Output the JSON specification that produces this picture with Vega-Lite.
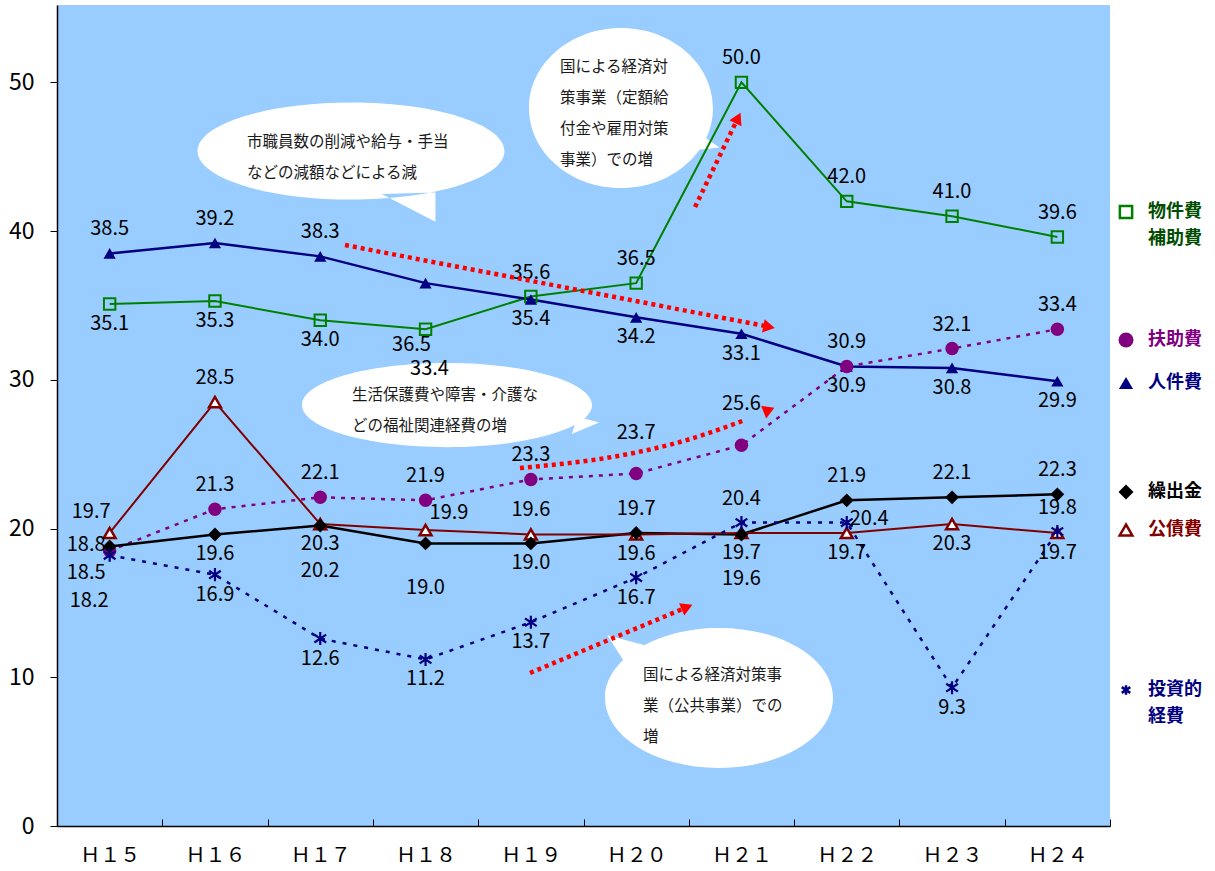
{
  "$schema": "https://vega.github.io/schema/vega-lite/v6.json",
  "autosize": {"type": "none"},
  "width": 1053,
  "height": 821,
  "padding": {"left": 57, "top": 5, "right": 105, "bottom": 45},
  "background": "white",
  "view": {"fill": "#99CCFF", "stroke": null},
  "config": {
    "text": {"font": "Noto Sans CJK JP", "fontSize": 20, "color": "black", "baseline": "middle", "align": "center"},
    "legend": {"title": null, "padding": 0, "labelFont": "Noto Sans CJK JP", "labelFontSize": 18, "labelFontWeight": "bold", "labelOffset": 13, "labelLimit": 0, "orient": "none"},
    "style": {"guide-label": {"lineHeight": 27}}
  },
  "datasets": {
    "cost": [
      {"series": "物件費・補助費", "i": 0, "v": 35.1, "pos": "b"},
      {"series": "物件費・補助費", "i": 1, "v": 35.3, "pos": "b"},
      {"series": "物件費・補助費", "i": 2, "v": 34.0, "pos": "b"},
      {"series": "物件費・補助費", "i": 3, "v": 33.4, "pos": "b2"},
      {"series": "物件費・補助費", "i": 4, "v": 35.6, "pos": "t"},
      {"series": "物件費・補助費", "i": 5, "v": 36.5, "pos": "t"},
      {"series": "物件費・補助費", "i": 6, "v": 50.0, "pos": "t"},
      {"series": "物件費・補助費", "i": 7, "v": 42.0, "pos": "t"},
      {"series": "物件費・補助費", "i": 8, "v": 41.0, "pos": "t"},
      {"series": "物件費・補助費", "i": 9, "v": 39.6, "pos": "t"},
      {"series": "人件費", "i": 0, "v": 38.5, "pos": "t"},
      {"series": "人件費", "i": 1, "v": 39.2, "pos": "t"},
      {"series": "人件費", "i": 2, "v": 38.3, "pos": "t"},
      {"series": "人件費", "i": 3, "v": 36.5, "pos": "b3"},
      {"series": "人件費", "i": 4, "v": 35.4, "pos": "b"},
      {"series": "人件費", "i": 5, "v": 34.2, "pos": "b"},
      {"series": "人件費", "i": 6, "v": 33.1, "pos": "b"},
      {"series": "人件費", "i": 7, "v": 30.9, "pos": "b"},
      {"series": "人件費", "i": 8, "v": 30.8, "pos": "b"},
      {"series": "人件費", "i": 9, "v": 29.9, "pos": "b"},
      {"series": "扶助費", "i": 0, "v": 18.5, "pos": "bl"},
      {"series": "扶助費", "i": 1, "v": 21.3, "pos": "t"},
      {"series": "扶助費", "i": 2, "v": 22.1, "pos": "t"},
      {"series": "扶助費", "i": 3, "v": 21.9, "pos": "t"},
      {"series": "扶助費", "i": 4, "v": 23.3, "pos": "t"},
      {"series": "扶助費", "i": 5, "v": 23.7, "pos": "tt"},
      {"series": "扶助費", "i": 6, "v": 25.6, "pos": "tt"},
      {"series": "扶助費", "i": 7, "v": 30.9, "pos": "t"},
      {"series": "扶助費", "i": 8, "v": 32.1, "pos": "t"},
      {"series": "扶助費", "i": 9, "v": 33.4, "pos": "t"},
      {"series": "繰出金", "i": 0, "v": 18.8, "pos": "l"},
      {"series": "繰出金", "i": 1, "v": 19.6, "pos": "b"},
      {"series": "繰出金", "i": 2, "v": 20.2, "pos": "bb"},
      {"series": "繰出金", "i": 3, "v": 19.0, "pos": "bb"},
      {"series": "繰出金", "i": 4, "v": 19.0, "pos": "b"},
      {"series": "繰出金", "i": 5, "v": 19.7, "pos": "t"},
      {"series": "繰出金", "i": 6, "v": 19.6, "pos": "bb"},
      {"series": "繰出金", "i": 7, "v": 21.9, "pos": "t"},
      {"series": "繰出金", "i": 8, "v": 22.1, "pos": "t"},
      {"series": "繰出金", "i": 9, "v": 22.3, "pos": "t"},
      {"series": "公債費", "i": 0, "v": 19.7, "pos": "tl"},
      {"series": "公債費", "i": 1, "v": 28.5, "pos": "t"},
      {"series": "公債費", "i": 2, "v": 20.3, "pos": "b"},
      {"series": "公債費", "i": 3, "v": 19.9, "pos": "tr"},
      {"series": "公債費", "i": 4, "v": 19.6, "pos": "t"},
      {"series": "公債費", "i": 5, "v": 19.6, "pos": "b"},
      {"series": "公債費", "i": 6, "v": 19.7, "pos": "b"},
      {"series": "公債費", "i": 7, "v": 19.7, "pos": "b"},
      {"series": "公債費", "i": 8, "v": 20.3, "pos": "b"},
      {"series": "公債費", "i": 9, "v": 19.7, "pos": "b"},
      {"series": "投資的経費", "i": 0, "v": 18.2, "pos": "bbl"},
      {"series": "投資的経費", "i": 1, "v": 16.9, "pos": "b"},
      {"series": "投資的経費", "i": 2, "v": 12.6, "pos": "b"},
      {"series": "投資的経費", "i": 3, "v": 11.2, "pos": "b"},
      {"series": "投資的経費", "i": 4, "v": 13.7, "pos": "b"},
      {"series": "投資的経費", "i": 5, "v": 16.7, "pos": "b"},
      {"series": "投資的経費", "i": 6, "v": 20.4, "pos": "t"},
      {"series": "投資的経費", "i": 7, "v": 20.4, "pos": "r"},
      {"series": "投資的経費", "i": 8, "v": 9.3, "pos": "b"},
      {"series": "投資的経費", "i": 9, "v": 19.8, "pos": "t"}
    ],
    "bubbles": [
      {"note": "staff", "i": 2.292, "v": 45.38},
      {"note": "stimulus", "i": 4.856, "v": 48.28},
      {"note": "welfare", "i": 3.204, "v": 28.3},
      {"note": "public", "i": 5.787, "v": 8.61}
    ],
    "notes": [
      {"note": "staff", "i": 1.304, "v": 45.99, "txt": ["市職員数の削減や給与・手当", "などの減額などによる減"]},
      {"note": "stimulus", "i": 4.277, "v": 51.03, "txt": ["国による経済対", "策事業（定額給", "付金や雇用対策", "事業）での増"]},
      {"note": "welfare", "i": 2.301, "v": 28.98, "txt": ["生活保護費や障害・介護な", "どの福祉関連経費の増"]},
      {"note": "public", "i": 5.065, "v": 10.15, "txt": ["国による経済対策事", "業（公共事業）での", "増"]}
    ],
    "arrows": [
      {"arrow": "A", "k": 0, "i": 2.235, "v": 39.06},
      {"arrow": "A", "k": 1, "i": 6.224, "v": 33.62},
      {"arrow": "B", "k": 0, "i": 5.559, "v": 41.62},
      {"arrow": "B", "k": 1, "i": 5.948, "v": 47.33},
      {"arrow": "C", "k": 0, "i": 3.897, "v": 24.07},
      {"arrow": "C", "k": 1, "i": 4.657, "v": 24.68},
      {"arrow": "C", "k": 2, "i": 5.416, "v": 25.82},
      {"arrow": "C", "k": 3, "i": 6.034, "v": 27.3},
      {"arrow": "D", "k": 0, "i": 3.992, "v": 10.29},
      {"arrow": "D", "k": 1, "i": 5.464, "v": 14.66}
    ],
    "heads": [
      {"arrow": "A", "i": 6.262, "v": 33.55},
      {"arrow": "B", "i": 5.967, "v": 47.6},
      {"arrow": "C", "i": 6.262, "v": 27.97},
      {"arrow": "D", "i": 5.483, "v": 14.72}
    ]
  },
  "data": {"name": "cost"},
  "encoding": {
    "x": {
      "field": "i", "type": "quantitative",
      "scale": {"domain": [-0.5, 9.5], "nice": false, "zero": false},
      "axis": {
        "title": null, "grid": false,
        "values": [0, 0.5, 1, 1.5, 2, 2.5, 3, 3.5, 4, 4.5, 5, 5.5, 6, 6.5, 7, 7.5, 8, 8.5, 9, 9.5],
        "labelExpr": "datum.value % 1 == 0 ? ['Ｈ１５','Ｈ１６','Ｈ１７','Ｈ１８','Ｈ１９','Ｈ２０','Ｈ２１','Ｈ２２','Ｈ２３','Ｈ２４'][datum.value] : ''",
        "tickSize": -7, "tickColor": "black", "tickWidth": 1,
        "tickOpacity": {"condition": {"test": "datum.value % 1 == 0", "value": 0}, "value": 1},
        "domainColor": "black", "domainWidth": 1.5,
        "labelFont": "Noto Sans CJK JP", "labelFontSize": 20, "labelColor": "black",
        "labelPadding": 26, "labelOverlap": false, "labelFlush": false, "labelBound": false
      }
    },
    "y": {
      "field": "v", "type": "quantitative",
      "scale": {"domain": [0, 55.2], "nice": false},
      "axis": {
        "title": null, "grid": false, "values": [0, 10, 20, 30, 40, 50],
        "tickSize": 7, "tickColor": "black", "domainColor": "black", "domainWidth": 1.5,
        "labelFont": "Noto Sans CJK JP", "labelFontSize": 23, "labelColor": "black", "labelPadding": 16
      }
    }
  },
  "layer": [
    {"data": {"name": "bubbles"}, "transform": [{"filter": "datum.note == 'staff'"}],
     "mark": {"type": "point", "shape": "M-1,0A1,0.316,0,1,1,1,0A1,0.316,0,1,1,-1,0Z M0.2,0.28L0.55,0.46L0.55,0.27Z", "size": 94249, "filled": true, "fill": "white", "strokeWidth": 0, "opacity": 1}},
    {"data": {"name": "bubbles"}, "transform": [{"filter": "datum.note == 'stimulus'"}],
     "mark": {"type": "point", "shape": "M-1,0A1,0.87,0,1,1,1,0A1,0.87,0,1,1,-1,0Z M0.88,0.3L1.07,0.43L0.8,0.46Z", "size": 33856, "filled": true, "fill": "white", "strokeWidth": 0, "opacity": 1}},
    {"data": {"name": "bubbles"}, "transform": [{"filter": "datum.note == 'welfare'"}],
     "mark": {"type": "point", "shape": "M-1,0A1,0.29,0,1,1,1,0A1,0.29,0,1,1,-1,0Z M0.9,0.08L1.05,0.12L0.86,0.2Z", "size": 84100, "filled": true, "fill": "white", "strokeWidth": 0, "opacity": 1}},
    {"data": {"name": "bubbles"}, "transform": [{"filter": "datum.note == 'public'"}],
     "mark": {"type": "point", "shape": "M-1,0A1,0.614,0,1,1,1,0A1,0.614,0,1,1,-1,0Z M-0.82,-0.3L-0.98,-0.55L-0.6,-0.45Z", "size": 51984, "filled": true, "fill": "white", "strokeWidth": 0, "opacity": 1}},
    {"data": {"name": "notes"},
     "mark": {"type": "text", "align": "left", "baseline": "middle", "font": "Noto Sans CJK JP", "fontSize": 15.5, "lineHeight": 31, "color": "#1a1a1a"},
     "encoding": {"text": {"field": "txt"}}},

    {"transform": [{"filter": "datum.series == '物件費・補助費'"}], "mark": {"type": "line", "color": "#008000", "strokeWidth": 2}},
    {"transform": [{"filter": "datum.series == '人件費'"}], "mark": {"type": "line", "color": "#000080", "strokeWidth": 2.5}},
    {"transform": [{"filter": "datum.series == '扶助費'"}], "mark": {"type": "line", "color": "#800080", "strokeWidth": 2.5, "strokeDash": [4, 6]}},
    {"transform": [{"filter": "datum.series == '繰出金'"}], "mark": {"type": "line", "color": "#000000", "strokeWidth": 2.5}},
    {"transform": [{"filter": "datum.series == '公債費'"}], "mark": {"type": "line", "color": "#800000", "strokeWidth": 2}},
    {"transform": [{"filter": "datum.series == '投資的経費'"}], "mark": {"type": "line", "color": "#000080", "strokeWidth": 2.5, "strokeDash": [4, 7]}},

    {"transform": [{"filter": "datum.series == '物件費・補助費'"}],
     "mark": {"type": "point", "shape": "square", "filled": false, "size": 130, "strokeWidth": 2, "opacity": 1},
     "encoding": {"color": {"field": "series", "type": "nominal", "scale": {"domain": ["物件費・補助費"], "range": ["#008000"]},
       "legend": {"legendX": 1060, "legendY": 198, "symbolType": "square", "symbolSize": 150, "symbolStrokeWidth": 2.5, "symbolStrokeColor": "#005000", "labelColor": "#004d00", "labelExpr": "split(datum.label, '・')"}}}},
    {"transform": [{"filter": "datum.series == '人件費'"}],
     "mark": {"type": "point", "shape": "triangle-up", "filled": true, "size": 150, "opacity": 1},
     "encoding": {"color": {"field": "series", "type": "nominal", "scale": {"domain": ["人件費"], "range": ["#000080"]},
       "legend": {"legendX": 1060, "legendY": 369, "symbolType": "triangle-up", "symbolSize": 200, "labelColor": "#000080"}}}},
    {"transform": [{"filter": "datum.series == '扶助費'"}],
     "mark": {"type": "point", "shape": "circle", "filled": true, "size": 180, "opacity": 1},
     "encoding": {"color": {"field": "series", "type": "nominal", "scale": {"domain": ["扶助費"], "range": ["#800080"]},
       "legend": {"legendX": 1060, "legendY": 326, "symbolType": "circle", "symbolSize": 225, "labelColor": "#800080"}}}},
    {"transform": [{"filter": "datum.series == '公債費'"}],
     "mark": {"type": "point", "shape": "triangle-up", "filled": false, "fill": "white", "size": 140, "strokeWidth": 2.5, "opacity": 1},
     "encoding": {"color": {"field": "series", "type": "nominal", "scale": {"domain": ["公債費"], "range": ["#800000"]},
       "legend": {"legendX": 1060, "legendY": 516, "symbolType": "triangle-up", "symbolSize": 160, "symbolStrokeWidth": 2.5, "symbolFillColor": "white", "labelColor": "#800000"}}}},
    {"transform": [{"filter": "datum.series == '繰出金'"}],
     "mark": {"type": "point", "shape": "diamond", "filled": true, "size": 190, "opacity": 1},
     "encoding": {"color": {"field": "series", "type": "nominal", "scale": {"domain": ["繰出金"], "range": ["#000000"]},
       "legend": {"legendX": 1060, "legendY": 478, "symbolType": "diamond", "symbolSize": 225, "labelColor": "#000000"}}}},
    {"transform": [{"filter": "datum.series == '投資的経費'"}],
     "mark": {"type": "point", "shape": "M0,-1V1M-0.9,-0.6L0.9,0.6M-0.9,0.6L0.9,-0.6", "filled": false, "size": 170, "strokeWidth": 2.2, "opacity": 1},
     "encoding": {"color": {"field": "series", "type": "nominal", "scale": {"domain": ["投資的経費"], "range": ["#000080"]},
       "legend": {"legendX": 1060, "legendY": 676, "symbolType": "M0,-1V1M-0.9,-0.6L0.9,0.6M-0.9,0.6L0.9,-0.6", "symbolSize": 90, "symbolStrokeWidth": 2.5, "labelColor": "#000080", "labelExpr": "['投資的', '経費']"}}}},

    {"transform": [{"filter": "datum.pos == 't'"}], "mark": {"type": "text", "dy": -24}, "encoding": {"text": {"field": "v", "type": "quantitative", "format": ".1f"}}},
    {"transform": [{"filter": "datum.pos == 'tt'"}], "mark": {"type": "text", "dy": -41}, "encoding": {"text": {"field": "v", "type": "quantitative", "format": ".1f"}}},
    {"transform": [{"filter": "datum.pos == 'b'"}], "mark": {"type": "text", "dy": 20}, "encoding": {"text": {"field": "v", "type": "quantitative", "format": ".1f"}}},
    {"transform": [{"filter": "datum.pos == 'b2'"}], "mark": {"type": "text", "dy": 40, "dx": 4}, "encoding": {"text": {"field": "v", "type": "quantitative", "format": ".1f"}}},
    {"transform": [{"filter": "datum.pos == 'bb'"}], "mark": {"type": "text", "dy": 45}, "encoding": {"text": {"field": "v", "type": "quantitative", "format": ".1f"}}},
    {"transform": [{"filter": "datum.pos == 'b3'"}], "mark": {"type": "text", "dy": 62, "dx": -14}, "encoding": {"text": {"field": "v", "type": "quantitative", "format": ".1f"}}},
    {"transform": [{"filter": "datum.pos == 'l'"}], "mark": {"type": "text", "align": "right", "dx": -4, "dy": -1}, "encoding": {"text": {"field": "v", "type": "quantitative", "format": ".1f"}}},
    {"transform": [{"filter": "datum.pos == 'bl'"}], "mark": {"type": "text", "align": "right", "dx": -4, "dy": 22}, "encoding": {"text": {"field": "v", "type": "quantitative", "format": ".1f"}}},
    {"transform": [{"filter": "datum.pos == 'tl'"}], "mark": {"type": "text", "align": "right", "dx": 1, "dy": -21}, "encoding": {"text": {"field": "v", "type": "quantitative", "format": ".1f"}}},
    {"transform": [{"filter": "datum.pos == 'bbl'"}], "mark": {"type": "text", "align": "right", "dx": -1, "dy": 46}, "encoding": {"text": {"field": "v", "type": "quantitative", "format": ".1f"}}},
    {"transform": [{"filter": "datum.pos == 'r'"}], "mark": {"type": "text", "align": "left", "dx": 3, "dy": -4}, "encoding": {"text": {"field": "v", "type": "quantitative", "format": ".1f"}}},
    {"transform": [{"filter": "datum.pos == 'tr'"}], "mark": {"type": "text", "align": "left", "dx": 4, "dy": -17}, "encoding": {"text": {"field": "v", "type": "quantitative", "format": ".1f"}}},

    {"data": {"name": "arrows"},
     "mark": {"type": "line", "color": "#FF0000", "strokeWidth": 4.5, "strokeDash": [4, 4], "strokeCap": "butt", "interpolate": "natural"},
     "encoding": {"detail": {"field": "arrow"}, "order": {"field": "k", "type": "quantitative"}}},
    {"data": {"name": "heads"}, "transform": [{"filter": "datum.arrow == 'A'"}],
     "mark": {"type": "point", "shape": "triangle-up", "filled": true, "color": "#FF0000", "size": 180, "angle": 101, "opacity": 1}},
    {"data": {"name": "heads"}, "transform": [{"filter": "datum.arrow == 'B'"}],
     "mark": {"type": "point", "shape": "triangle-up", "filled": true, "color": "#FF0000", "size": 180, "angle": 26, "opacity": 1}},
    {"data": {"name": "heads"}, "transform": [{"filter": "datum.arrow == 'C'"}],
     "mark": {"type": "point", "shape": "triangle-up", "filled": true, "color": "#FF0000", "size": 180, "angle": 68, "opacity": 1}},
    {"data": {"name": "heads"}, "transform": [{"filter": "datum.arrow == 'D'"}],
     "mark": {"type": "point", "shape": "triangle-up", "filled": true, "color": "#FF0000", "size": 180, "angle": 67, "opacity": 1}}
  ],
  "resolve": {"scale": {"color": "independent"}, "legend": {"color": "independent"}}
}
